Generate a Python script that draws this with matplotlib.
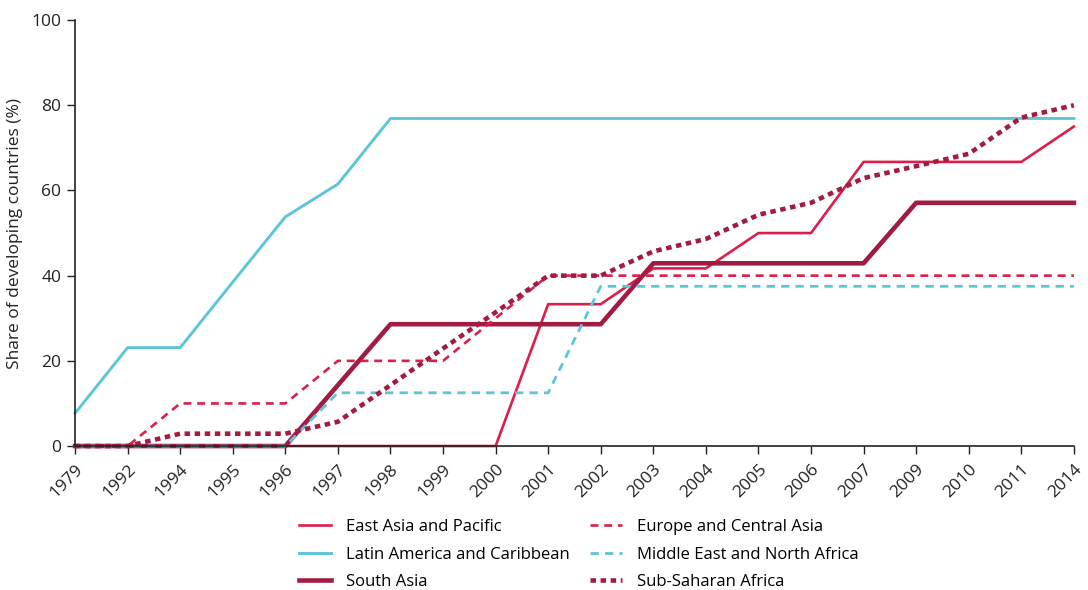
import matplotlib.pyplot as plt

plt.rcParams['font.family'] = ['Open Sans', 'DejaVu Sans']

years = ["1979", "1992", "1994", "1995", "1996", "1997", "1998", "1999", "2000", "2001",
         "2002", "2003", "2004", "2005", "2006", "2007", "2009", "2010", "2011", "2014"]

east_asia = [0, 0, 0, 0, 0, 0, 0, 0, 0, 33.3,
             33.3, 41.7, 41.7, 50.0, 50.0, 66.7, 66.7, 66.7, 66.7, 75.0]
latin_america = [7.7, 23.1, 23.1, 38.5, 53.8, 61.5, 76.9, 76.9, 76.9, 76.9,
                 76.9, 76.9, 76.9, 76.9, 76.9, 76.9, 76.9, 76.9, 76.9, 76.9]
south_asia = [0, 0, 0, 0, 0, 14.3, 28.6, 28.6, 28.6, 28.6,
              28.6, 42.9, 42.9, 42.9, 42.9, 42.9, 57.1, 57.1, 57.1, 57.1]
europe_central = [0, 0, 10, 10, 10, 20, 20, 20, 30, 40,
                  40, 40, 40, 40, 40, 40, 40, 40, 40, 40]
middle_east = [0, 0, 0, 0, 0, 12.5, 12.5, 12.5, 12.5, 12.5,
               37.5, 37.5, 37.5, 37.5, 37.5, 37.5, 37.5, 37.5, 37.5, 37.5]
sub_saharan = [0, 0, 2.9, 2.9, 2.9, 5.7, 14.3, 22.9, 31.4, 40.0,
               40.0, 45.7, 48.6, 54.3, 57.1, 62.9, 65.7, 68.6, 77.1, 80.0]

RED = "#dc1e4b"
CYAN = "#5cc6d6"
DARK = "#a21b42"
INK = "#222222"

fig = plt.figure(figsize=(10.88, 5.90), dpi=100)
ax = fig.add_axes([0.069, 0.244, 0.918, 0.722])

x = range(len(years))
ax.plot(x, east_asia, color=RED, lw=1.9, label="East Asia and Pacific", clip_on=False)
ax.plot(x, latin_america, color=CYAN, lw=2.1, label="Latin America and Caribbean", clip_on=False)
ax.plot(x, south_asia, color=DARK, lw=3.3, label="South Asia", clip_on=False)
ax.plot(x, europe_central, color=RED, lw=1.9, ls=(0, (3.0, 2.2)),
        label="Europe and Central Asia", clip_on=False)
ax.plot(x, middle_east, color=CYAN, lw=2.0, ls=(0, (3.0, 2.2)),
        label="Middle East and North Africa", clip_on=False)
ax.plot(x, sub_saharan, color=DARK, lw=3.3, ls=(0, (1.2, 1.0)),
        label="Sub-Saharan Africa", clip_on=False)

ax.set_xlim(0, len(years) - 1)
ax.set_ylim(0, 100)
ax.set_xticks(list(x))
ax.set_xticklabels(years, rotation=45, ha="right", rotation_mode="anchor")
ax.set_yticks([0, 20, 40, 60, 80, 100])
ax.tick_params(axis="both", direction="out", length=6, width=1, labelsize=12.5,
               colors=INK, pad=4)
ax.tick_params(axis="x", pad=5)
for side in ("top", "right"):
    ax.spines[side].set_visible(False)
for side in ("left", "bottom"):
    ax.spines[side].set_color(INK)
    ax.spines[side].set_linewidth(1.2)
ax.set_ylabel("Share of developing countries (%)", fontsize=12.5, color=INK, labelpad=6)

fig.legend(loc="upper center", bbox_to_anchor=(0.532, 0.137), ncol=2, frameon=False,
           fontsize=12, handlelength=1.9, columnspacing=1.2, labelspacing=0.68,
           handletextpad=0.9, borderaxespad=0.2)

fig.savefig("out.png", dpi=100)
